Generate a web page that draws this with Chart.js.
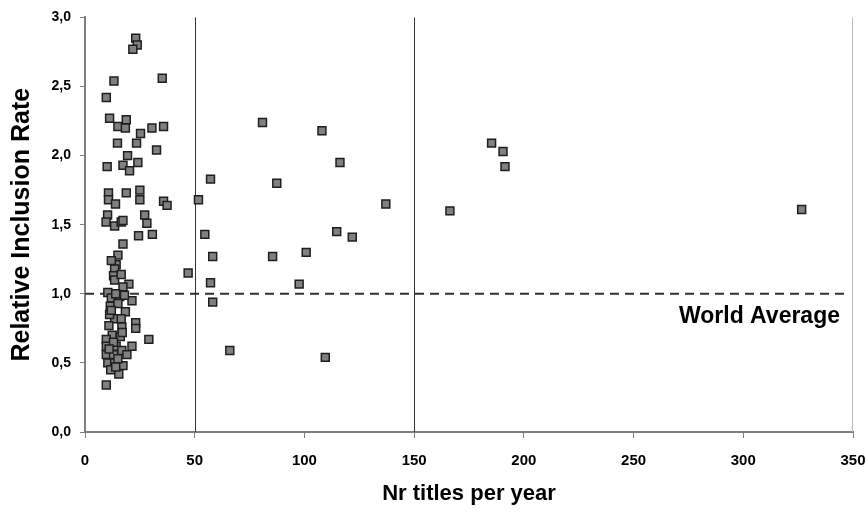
<!DOCTYPE html>
<html>
<head>
<meta charset="utf-8">
<script src="https://cdn.jsdelivr.net/npm/chart.js@4"></script>
<style>
  body { margin: 0; background: #fff; }
  #wrap { width: 868px; height: 512px; }
</style>
</head>
<body>
<div id="wrap"><canvas id="scatter"></canvas></div>
<script>
// Nr titles per year (x) and relative inclusion rate (y)
const titlesPerYear = [
    23.1, 23.8, 21.8, 13.2, 35.2, 9.7, 11.2, 15.0, 18.8, 18.4,
    25.3, 30.5, 35.8, 14.8, 23.5, 32.6, 19.4, 10.1, 17.3, 20.3,
    24.1, 10.7, 10.7, 13.9, 18.8, 25.0, 25.0, 35.8, 37.4, 27.2,
    10.3, 9.6, 13.5, 16.5, 17.3, 28.2, 24.4, 30.7, 17.3, 15.0,
    14.2, 13.5, 13.0, 13.5, 16.5, 20.0, 17.3, 47.0, 10.4, 12.0,
    15.8, 21.4, 11.5, 18.4, 13.5, 16.5, 11.2, 23.1, 23.1, 10.9,
    16.8, 12.4, 16.1, 29.1, 9.7, 9.7, 14.2, 16.8, 21.4, 9.7,
    13.0, 19.1, 10.4, 13.5, 17.3, 11.7, 15.4, 9.7,
    14.0, 15.0, 12.0, 17.0, 13.0, 11.0, 15.0, 14.0, 18.0, 12.0,
    80.9, 108.0, 116.2, 57.2, 87.4, 51.7, 137.1, 54.6, 114.7, 121.8,
    58.2, 85.5, 100.8, 57.2, 97.6, 58.2, 66.0, 109.5,
    185.3, 190.5, 191.4, 166.3, 326.6
];
const inclusionRate = [
    2.85, 2.80, 2.77, 2.54, 2.56, 2.42, 2.27, 2.21, 2.26, 2.20,
    2.16, 2.20, 2.21, 2.09, 2.09, 2.04, 2.00, 1.92, 1.93, 1.89,
    1.95, 1.73, 1.68, 1.65, 1.73, 1.75, 1.68, 1.67, 1.64, 1.57,
    1.57, 1.52, 1.49, 1.52, 1.53, 1.51, 1.42, 1.43, 1.36, 1.28,
    1.21, 1.18, 1.13, 1.10, 1.14, 1.07, 1.05, 1.15, 1.01, 0.97,
    0.98, 0.95, 0.91, 0.87, 0.82, 0.82, 0.85, 0.79, 0.75, 0.77,
    0.76, 0.70, 0.69, 0.67, 0.67, 0.62, 0.62, 0.59, 0.62, 0.56,
    0.56, 0.56, 0.50, 0.50, 0.48, 0.45, 0.42, 0.34,
    1.00, 0.93, 0.88, 0.72, 0.65, 0.60, 0.53, 0.47, 0.99, 1.24,
    2.24, 2.18, 1.95, 1.83, 1.80, 1.68, 1.65, 1.43, 1.45, 1.41,
    1.27, 1.27, 1.30, 1.08, 1.07, 0.94, 0.59, 0.54,
    2.09, 2.03, 1.92, 1.60, 1.61
];
const xTicks = [0, 50, 100, 150, 200, 250, 300, 350];
const yTicks = [0, 0.5, 1.0, 1.5, 2.0, 2.5, 3.0];
const dividers = [50, 150];
const worldAverage = 1.0;

const points = titlesPerYear.map((x, i) => ({ x: x, y: inclusionRate[i] }));

// separators, dashed world-average line and its label
const refLines = {
    id: 'refLines',
    beforeDatasetsDraw(chart) {
        const { ctx, chartArea, scales } = chart;
        ctx.save();
        ctx.strokeStyle = '#333';
        ctx.lineWidth = 1;
        dividers.forEach(function(v) {
            const px = Math.round(scales.x.getPixelForValue(v)) + 0.5;
            ctx.beginPath();
            ctx.moveTo(px, chartArea.top);
            ctx.lineTo(px, chartArea.bottom);
            ctx.stroke();
        });
        // right edge line
        ctx.strokeStyle = '#bbb';
        ctx.beginPath();
        ctx.moveTo(chartArea.right - 0.5, chartArea.top);
        ctx.lineTo(chartArea.right - 0.5, chartArea.bottom);
        ctx.stroke();

        const py = scales.y.getPixelForValue(worldAverage);
        ctx.strokeStyle = '#333';
        ctx.lineWidth = 2;
        ctx.setLineDash([9, 6]);
        ctx.beginPath();
        ctx.moveTo(chartArea.left, py);
        ctx.lineTo(chartArea.right - 4, py);
        ctx.stroke();
        ctx.setLineDash([]);

        ctx.fillStyle = '#000';
        ctx.font = 'bold 23px "Liberation Sans", Arial, sans-serif';
        ctx.textAlign = 'right';
        ctx.textBaseline = 'middle';
        ctx.fillText('World Average', chartArea.right - 13, py + 23);
        ctx.restore();
    }
};

const ctx = document.getElementById('scatter').getContext('2d');
new Chart(ctx, {
    type: 'scatter',
    data: {
        datasets: [{
            data: points,
            pointStyle: 'rect',
            pointRadius: 5.6,
            pointHoverRadius: 5.6,
            backgroundColor: '#808080',
            borderColor: '#1e1e1e',
            borderWidth: 1.5
        }]
    },
    plugins: [refLines],
    options: {
        responsive: true,
        maintainAspectRatio: false,
        animation: false,
        events: [],
        layout: { padding: { top: 17, right: 15, left: 0, bottom: 0 } },
        plugins: {
            legend: { display: false },
            tooltip: { enabled: false }
        },
        scales: {
            x: {
                type: 'linear',
                min: 0,
                max: 350,
                afterBuildTicks: function(scale) {
                    scale.ticks = xTicks.map(v => ({ value: v }));
                },
                afterFit: function(scale) { scale.height = 80; },
                grid: { drawOnChartArea: false, drawTicks: true, tickLength: 6, color: '#808080' },
                border: { color: '#808080', width: 2 },
                ticks: {
                    color: '#000',
                    padding: 2,
                    maxRotation: 0,
                    // tall line height pushes the labels down without widening the axis
                    font: { family: '"Liberation Sans", Arial, sans-serif', size: 15, weight: 'bold', lineHeight: 2.8 }
                },
                title: {
                    display: true,
                    text: 'Nr titles per year',
                    color: '#000',
                    padding: { top: 0, bottom: 5 },
                    font: { family: '"Liberation Sans", Arial, sans-serif', size: 22, weight: 'bold' }
                }
            },
            y: {
                type: 'linear',
                min: 0,
                max: 3,
                afterBuildTicks: function(scale) {
                    scale.ticks = yTicks.map(v => ({ value: v }));
                },
                afterFit: function(scale) { scale.width = 85; },
                grid: { drawOnChartArea: false, drawTicks: true, tickLength: 5, color: '#808080' },
                border: { color: '#808080', width: 2 },
                ticks: {
                    color: '#000',
                    padding: 9,
                    font: { family: '"Liberation Sans", Arial, sans-serif', size: 14, weight: 'bold' },
                    callback: function(v) { return v.toFixed(1).replace('.', ','); }
                },
                title: {
                    display: true,
                    text: 'Relative Inclusion Rate',
                    color: '#000',
                    padding: { top: 7, bottom: 0 },
                    font: { family: '"Liberation Sans", Arial, sans-serif', size: 25, weight: 'bold' }
                }
            }
        }
    }
});
</script>
</body>
</html>
